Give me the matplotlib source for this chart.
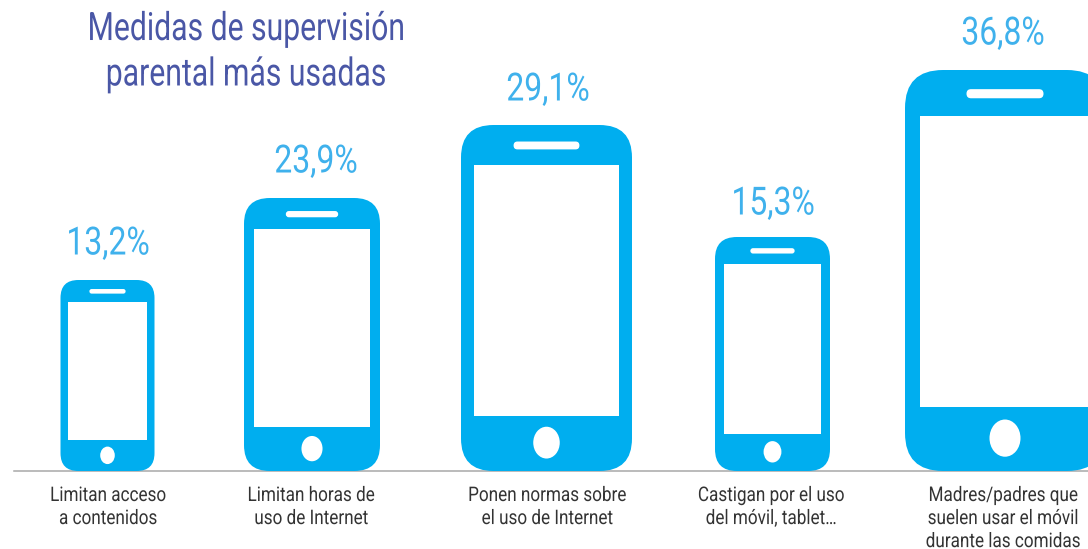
import matplotlib
matplotlib.use('Agg')
import matplotlib.pyplot as plt
from matplotlib.patches import FancyBboxPatch, Ellipse, Rectangle
from matplotlib.patheffects import AbstractPathEffect
from matplotlib.transforms import Affine2D

# values printed over each phone
labels = ['13,2%', '23,9%', '29,1%', '15,3%', '36,8%']
captions = ['Limitan acceso\na contenidos',
            'Limitan horas de\nuso de Internet',
            'Ponen normas sobre\nel uso de Internet',
            'Castigan por el uso\ndel móvil, tablet…',
            'Madres/padres que\nsuelen usar el móvil\ndurante las comidas']
# phone sizes (the icons are not to scale with the values)
phone_heights = [191, 273, 346, 234, 401]
phone_widths = [94, 136, 171, 115, 200]
phone_centers = [107.5, 312, 546.5, 772.5, 1005]
label_centers = [108, 316, 548, 773, 1003]
label_y = [244, 162, 90, 204, 34]
caption_centers = [108, 311, 547, 771, 1003]
title = 'Medidas de supervisión\nparental más usadas'

BLUE = '#00aeef'
W, H = 1088, 549
BASE = 471


# no condensed font installed, so squeeze the glyphs sideways around a centre
class Squeeze(AbstractPathEffect):
    def __init__(self, sx, cx):
        super().__init__()
        self.sx = sx
        self.cx = cx

    def draw_path(self, renderer, gc, tpath, affine, rgbFace=None):
        t = affine + Affine2D().translate(-self.cx, 0).scale(self.sx, 1).translate(self.cx, 0)
        renderer.draw_path(gc, tpath, t, rgbFace)


plt.rcParams['font.family'] = ['Roboto', 'DejaVu Sans']
fig = plt.figure(figsize=(W / 100, H / 100), dpi=100)
ax = fig.add_axes([0, 0, 1, 1])
ax.set_xlim(0, W)
ax.set_ylim(H, 0)
ax.axis('off')

# baseline
ax.plot([14, W], [BASE, BASE], color='#a8a8a8', lw=1.1, zorder=1)


def draw_phone(cx, w, h):
    x0 = cx - w / 2
    top = BASE - h
    r = 0.19 * w
    ax.add_patch(FancyBboxPatch((x0 + r, top + r), w - 2 * r, h - 2 * r,
                                boxstyle=f'round,pad={r},rounding_size={r}',
                                fc=BLUE, ec='none', zorder=2))
    # screen
    side = w * 0.077
    ax.add_patch(Rectangle((x0 + side, top + 0.115 * h), w - 2 * side, 0.725 * h,
                           fc='white', ec='none', zorder=3))
    # speaker
    sw = 0.385 * w
    sh = max(4.5, 0.0225 * h)
    ax.add_patch(FancyBboxPatch((cx - sw / 2 + sh / 2, top + 0.059 * h), sw - sh, 0.1,
                                boxstyle=f'round,pad={sh / 2},rounding_size={sh / 2}',
                                fc='white', ec='none', zorder=3))
    # home button, a bit taller than wide
    ax.add_patch(Ellipse((cx, BASE - 0.082 * h), 0.155 * w, 0.186 * w, fc='white', ec='none', zorder=3))


for i in range(len(labels)):
    draw_phone(phone_centers[i], phone_widths[i], phone_heights[i])
    ax.text(label_centers[i], label_y[i], labels[i], color='#3fb1ec', fontsize=28,
            ha='center', va='center', path_effects=[Squeeze(0.82, label_centers[i])])
    if i < len(labels) - 1:
        ax.text(caption_centers[i], 486, captions[i], color='#333333', fontsize=14.5, ha='center', va='top',
                linespacing=1.27, path_effects=[Squeeze(0.85, caption_centers[i])])
    else:
        # last caption anchored at its right edge so the text stays inside the picture
        ax.text(1080, 486, captions[i], color='#333333', fontsize=14.5, ha='right', ma='center', va='top',
                linespacing=1.27, path_effects=[Squeeze(0.85, 1080)])

ax.text(246, 52, title, color='#4a57a6', fontsize=28, ha='center', va='center',
        linespacing=1.27, path_effects=[Squeeze(0.775, 246)])

fig.savefig('out.png', dpi=100)
